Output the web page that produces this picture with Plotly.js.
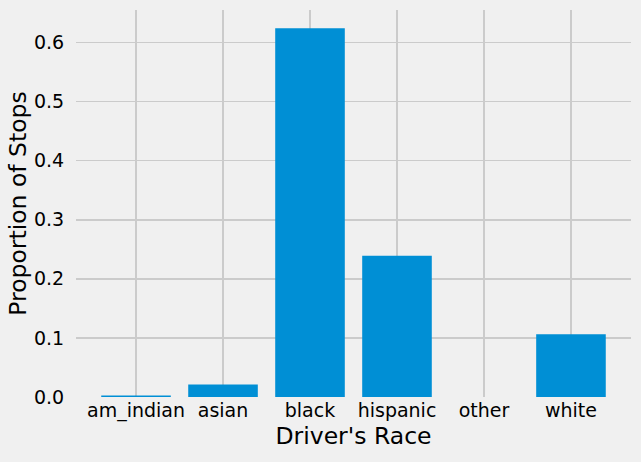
<!DOCTYPE html>
<html><head><meta charset="utf-8">
<script src="https://cdn.plot.ly/plotly-3.0.1.min.js"></script>
<style>body{margin:0;background:#f0f0f0;}#chart{width:641px;height:462px;}</style>
</head><body><div id="chart"></div>
<script>
const races = ["am_indian", "asian", "black", "hispanic", "other", "white"];
const proportions = [0.0025, 0.021, 0.624, 0.239, 0.0002, 0.106];
const yTicks = [0.0, 0.1, 0.2, 0.3, 0.4, 0.5, 0.6];
const yTickLabels = ["0.0", "0.1", "0.2", "0.3", "0.4", "0.5", "0.6"];

Plotly.newPlot("chart", [{
  type: "bar", x: races.map((_, i) => i), y: proportions,
  width: 0.8, marker: {color: "#008fd5", line: {width: 0}},
  hoverinfo: "none"
}], {
  width: 641, height: 462,
  paper_bgcolor: "#f0f0f0", plot_bgcolor: "#f0f0f0",
  margin: {l: 76, r: 10, t: 10, b: 65},
  font: {family: "DejaVu Sans", size: 19, color: "#000"},
  showlegend: false,
  xaxis: {
    range: [-0.69, 5.69], tickmode: "array",
    tickvals: races.map((_, i) => i), ticktext: races,
    showgrid: true, gridcolor: "#cbcbcb", gridwidth: 1.5, zeroline: false,
    showline: false, ticks: "", ticklen: 0,
    title: {text: "Driver's Race", font: {size: 23.5}, standoff: 6}
  },
  yaxis: {
    range: [0, 0.655], tickmode: "array", tickvals: yTicks, ticktext: yTickLabels,
    showgrid: true, gridcolor: "#cbcbcb", gridwidth: 1.5, zeroline: false,
    showline: false, ticks: "outside", ticklen: 7, tickcolor: "rgba(0,0,0,0)",
    title: {text: "Proportion of Stops", font: {size: 23.5}, standoff: 0}
  },
  bargap: 0.2
}, {staticPlot: true});
</script></body></html>
